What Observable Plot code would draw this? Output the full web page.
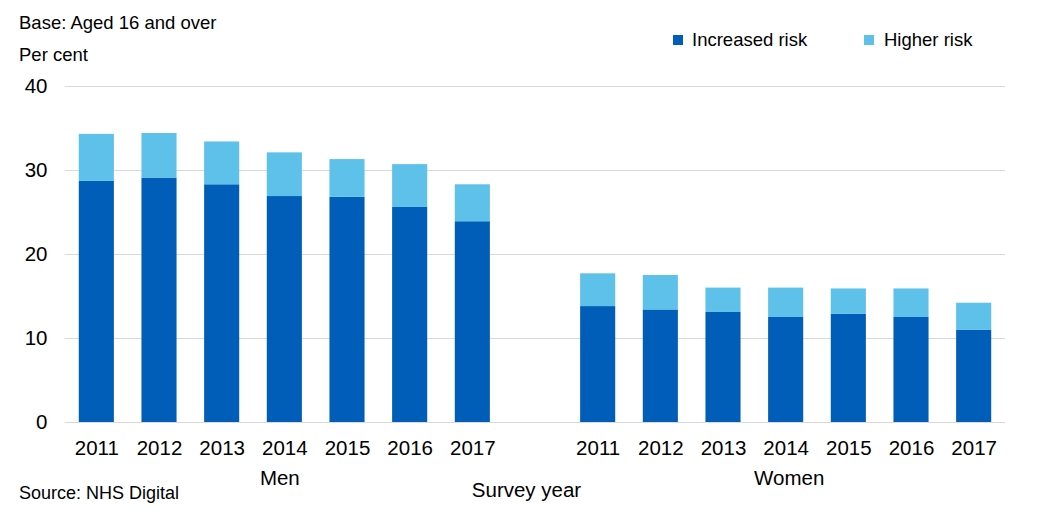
<!DOCTYPE html>
<html>
<head>
<meta charset="utf-8">
<script src="https://cdn.jsdelivr.net/npm/d3@7"></script>
<script src="https://cdn.jsdelivr.net/npm/@observablehq/plot@0.6"></script>
<style>
  html, body { margin: 0; padding: 0; background: #fff; }
  #wrap { position: relative; width: 1056px; height: 528px; font-family: "Liberation Sans", Arial, sans-serif; color: #000; overflow: hidden; }
  #wrap svg { position: absolute; left: 0; top: 0; }
  .t { position: absolute; font-size: 18.5px; line-height: 22px; white-space: nowrap; }
  .sw { position: absolute; width: 10px; height: 10px; }
</style>
</head>
<body>
<div id="wrap">
  <div class="t" style="left:19px; top:12px;">Base: Aged 16 and over</div>
  <div class="t" style="left:19px; top:44px;">Per cent</div>
  <div class="sw" style="left:673px; top:35px; background:#005EB8;"></div>
  <div class="t" style="left:692px; top:29px;">Increased risk</div>
  <div class="sw" style="left:864px; top:35px; background:#5DC1EA;"></div>
  <div class="t" style="left:884px; top:29px;">Higher risk</div>
  <div class="t" style="left:19px; top:482px; font-size:18px;">Source: NHS Digital</div>
</div>
<script>
const years = ["2011", "2012", "2013", "2014", "2015", "2016", "2017"];
const groups = ["Men", "Women"];
const seriesNames = ["Increased risk", "Higher risk"];
const menIncreased = [28.7, 29.1, 28.3, 26.9, 26.8, 25.6, 23.9];
const menHigher = [5.6, 5.3, 5.1, 5.2, 4.5, 5.1, 4.4];
const womenIncreased = [13.8, 13.4, 13.1, 12.5, 12.9, 12.5, 11.0];
const womenHigher = [3.9, 4.1, 2.9, 3.5, 3.0, 3.4, 3.2];
const yTicks = [0, 10, 20, 30, 40];

const values = {
  Men: [menIncreased, menHigher],
  Women: [womenIncreased, womenHigher]
};

const rows = [];
for (const g of groups) {
  years.forEach((yr, i) => {
    seriesNames.forEach((s, j) => {
      rows.push({key: g + "-" + yr, series: s, value: values[g][j][i]});
    });
  });
}
const xDomain = [
  ...years.map(y => "Men-" + y),
  "gap",
  ...years.map(y => "Women-" + y)
];

const chart = Plot.plot({
  width: 1056,
  height: 528,
  marginTop: 86,
  marginBottom: 106,
  marginLeft: 65,
  marginRight: 51,
  style: {fontFamily: "'Liberation Sans', Arial, sans-serif", fontSize: "20.5px", color: "#000", background: "transparent"},
  x: {
    domain: xDomain,
    paddingInner: 0.44,
    paddingOuter: 0.22,
    round: false,
    tickSize: 0,
    tickPadding: 18,
    label: null,
    tickFormat: k => k === "gap" ? "" : k.split("-")[1]
  },
  y: {
    domain: [0, 40],
    ticks: yTicks,
    tickSize: 0,
    tickPadding: 18,
    label: null
  },
  color: {domain: seriesNames, range: ["#005EB8", "#5DC1EA"]},
  marks: [
    Plot.gridY(yTicks, {stroke: "#d9d9d9", strokeOpacity: 1, strokeWidth: 1}),
    Plot.barY(rows, {x: "key", y: "value", fill: "series"}),
    Plot.text([{key: "Men-2014", label: "Men"}],
      {x: "key", y: () => 0, text: "label", dy: 56, dx: -5, fontSize: 20.5}),
    Plot.text([{key: "Women-2014", label: "Women"}],
      {x: "key", y: () => 0, text: "label", dy: 56, dx: 3, fontSize: 20.5}),
    Plot.text([{key: "gap", label: "Survey year"}],
      {x: "key", y: () => 0, text: "label", dy: 68, dx: -9, fontSize: 20.5})
  ]
});
document.getElementById("wrap").prepend(chart);
</script>
</body>
</html>
